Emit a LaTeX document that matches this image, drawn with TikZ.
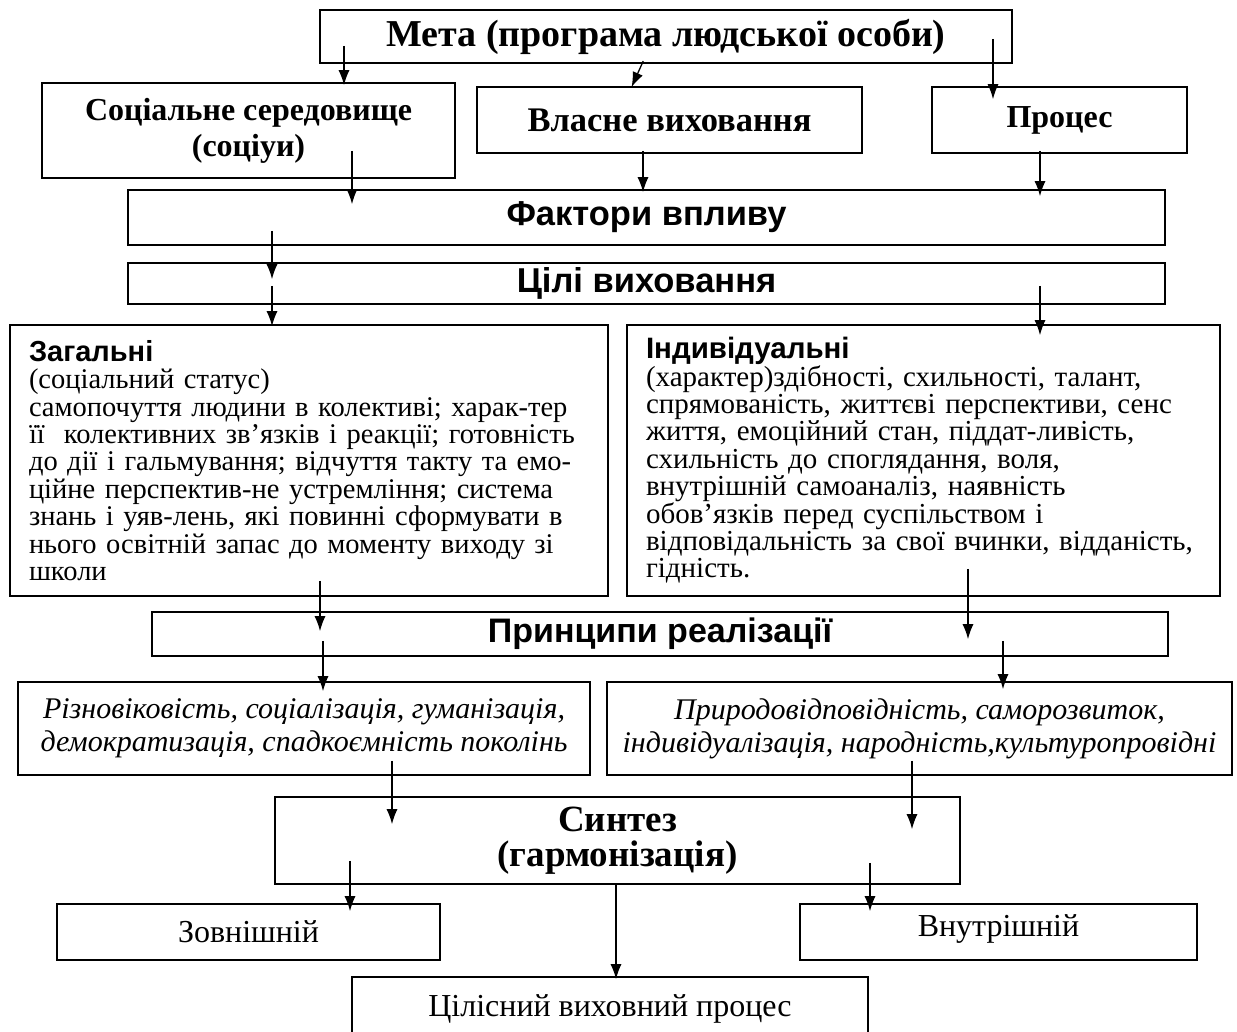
\documentclass[tikz,border=0pt]{standalone}
\usepackage{fontspec}
\setmainfont{Liberation Serif}
\newfontfamily\arialfont{Liberation Sans}
\usetikzlibrary{arrows.meta, positioning}
\tikzstyle{arrow} = [line width=1.3pt, -{Latex[length=15pt,width=11pt]}]
\tikzstyle{box} = [rectangle, draw=black, line width=1.6pt, inner sep=0pt, align=center]
\tikzstyle{listbox} = [box, align=left, inner xsep=19pt]

\begin{document}
\begin{tikzpicture}[x=1pt, y=-1pt]
\useasboundingbox (0,0) rectangle (1237,1032);
%----------------------------------------------------------------------------
% Top level
\node (meta) [box, minimum width=692pt, minimum height=53pt, font=\fontsize{38}{40}\selectfont\bfseries] at (666,36.5) {Мета (програма людської особи)};

\node (social) [box, minimum width=413pt, minimum height=95pt, font=\fontsize{32}{36}\selectfont\bfseries] at (248.5,130.5) {Соціальне середовище\\(соціуи)};
\node (own) [box, minimum width=385pt, minimum height=66pt, font=\fontsize{34.5}{36}\selectfont\bfseries] at (669.5,120) {Власне виховання};
\node (process) [box, minimum width=255pt, minimum height=66pt, font=\fontsize{32}{36}\selectfont\bfseries] at (1059.5,120) {Процес};

\node (factors) [box, minimum width=1037pt, minimum height=55pt, font=\fontsize{34.5}{36}\selectfont\arialfont\bfseries] at (646.5,217.5) {Фактори впливу};
\node (goals) [box, minimum width=1037pt, minimum height=41pt, font=\fontsize{34.5}{36}\selectfont\arialfont\bfseries] at (646.5,283.5) {Цілі виховання};

%----------------------------------------------------------------------------
% General and individual goals
\node (general) [listbox, text width=560pt, minimum height=271pt, font=\fontsize{28.5}{27.4}\selectfont] at (309,460.5) {{\arialfont\bfseries\fontsize{29}{27.4}\selectfont Загальні}\\
(соціальний статус)\\
самопочуття людини в колективі; харак-тер\\
її\ \ колективних зв’язків і реакції; готовність\\
до дії і гальмування; відчуття такту та емо-\\
ційне перспектив-не устремління; система\\
знань і уяв-лень, які повинні сформувати в\\
нього освітній запас до моменту виходу зі\\
школи};

\node (individual) [listbox, text width=555pt, minimum height=271pt, font=\fontsize{29}{27.4}\selectfont] at (923.5,460.5) {{\arialfont\bfseries\fontsize{29.5}{27.4}\selectfont Індивідуальні}\\
(характер)здібності, схильності, талант,\\
спрямованість, життєві перспективи, сенс\\
життя, емоційний стан, піддат-ливість,\\
схильність до споглядання, воля,\\
внутрішній самоаналіз, наявність\\
обов’язків перед суспільством і\\
відповідальність за свої вчинки, відданість,\\
гідність.};

%----------------------------------------------------------------------------
% Principles
\node (principles) [box, minimum width=1016pt, minimum height=44pt, font=\fontsize{34}{36}\selectfont\arialfont\bfseries] at (660,634) {\raisebox{-4pt}{Принципи реалізації}};

\node (leftprinc) [box, minimum width=572pt, minimum height=93pt, font=\fontsize{30}{33}\selectfont\itshape] at (304,728.5) {Різновіковість, соціалізація, гуманізація,\\демократизація, спадкоємність поколінь};
\node (rightprinc) [box, minimum width=625pt, minimum height=93pt, font=\fontsize{30}{33}\selectfont\itshape] at (919.5,728.5) {Природовідповідність, саморозвиток,\\індивідуалізація, народність,культуропровідні};

%----------------------------------------------------------------------------
% Synthesis
\node (synthesis) [box, minimum width=685pt, minimum height=87pt, font=\fontsize{37}{35}\selectfont\bfseries] at (617.5,840.5) {Синтез\\(гармонізація)};

\node (outer) [box, minimum width=383pt, minimum height=56pt, font=\fontsize{32}{34}\selectfont] at (248.5,932) {Зовнішній};
\node (inner) [box, minimum width=397pt, minimum height=56pt, font=\fontsize{32}{34}\selectfont] at (998.5,932) {\raisebox{12pt}{Внутрішній}};
\node (whole) [box, minimum width=516pt, minimum height=64pt, font=\fontsize{32}{34}\selectfont] at (610,1009) {\raisebox{4pt}{Цілісний виховний процес}};

%----------------------------------------------------------------------------
% Drawing of arrows
\draw [arrow, shorten <=-18pt, shorten >=-3pt] (meta.south -| 344,0) -- (social.north -| 344,0);
\draw [arrow, shorten <=-3pt, shorten >=-1pt] (meta.south -| 642,0) -- (own.north -| 632,0);
\draw [arrow, shorten <=-25pt, shorten >=-13pt] (meta.south -| 993,0) -- (process.north -| 993,0);

\draw [arrow, shorten <=-28pt, shorten >=-15pt] (social.south -| 352,0) -- (factors.north -| 352,0);
\draw [arrow, shorten <=-3pt, shorten >=-3pt] (own.south -| 643,0) -- (factors.north -| 643,0);
\draw [arrow, shorten <=-3pt, shorten >=-7pt] (process.south -| 1040,0) -- (factors.north -| 1040,0);

\draw [arrow, shorten <=-15pt, shorten >=-17pt] (factors.south -| 272,0) -- (goals.north -| 272,0);
\draw [arrow, shorten <=-19pt, shorten >=-2pt] (goals.south -| 272,0) -- (general.north -| 272,0);
\draw [arrow, shorten <=-19pt, shorten >=-11pt] (goals.south -| 1040,0) -- (individual.north -| 1040,0);

\draw [arrow, shorten <=-16pt, shorten >=-20pt] (general.south -| 320,0) -- (principles.north -| 320,0);
\draw [arrow, shorten <=-28pt, shorten >=-28pt] (individual.south -| 968,0) -- (principles.north -| 968,0);

\draw [arrow, shorten <=-16pt, shorten >=-10pt] (principles.south -| 323,0) -- (leftprinc.north -| 323,0);
\draw [arrow, shorten <=-16pt, shorten >=-8pt] (principles.south -| 1003,0) -- (rightprinc.north -| 1003,0);

\draw [arrow, shorten <=-15pt, shorten >=-28pt] (leftprinc.south -| 392,0) -- (synthesis.north -| 392,0);
\draw [arrow, shorten <=-15pt, shorten >=-33pt] (rightprinc.south -| 912,0) -- (synthesis.north -| 912,0);

\draw [arrow, shorten <=-24pt, shorten >=-8pt] (synthesis.south -| 350,0) -- (outer.north -| 350,0);
\draw [arrow, shorten >=-3pt] (synthesis.south -| 616,0) -- (whole.north -| 616,0);
\draw [arrow, shorten <=-22pt, shorten >=-8pt] (synthesis.south -| 870,0) -- (inner.north -| 870,0);

\end{tikzpicture}
\end{document}
